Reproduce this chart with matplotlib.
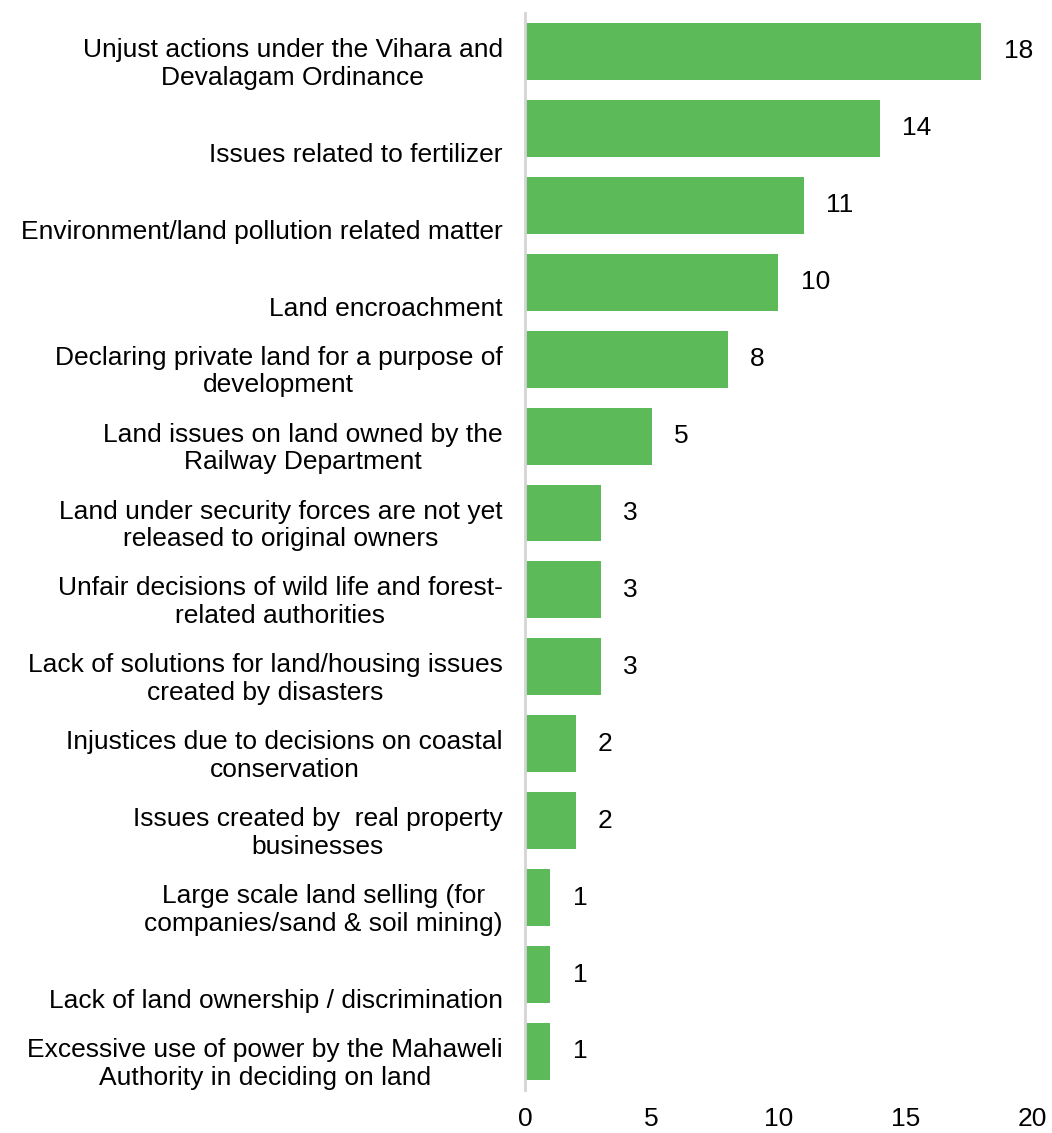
import matplotlib.pyplot as plt
from matplotlib.transforms import ScaledTranslation

plt.rcParams['font.family'] = ['Liberation Sans', 'DejaVu Sans']

# Categories (top to bottom) and counts
categories = [
    "Unjust actions under the Vihara and\nDevalagam Ordinance",
    "\nIssues related to fertilizer",
    "\nEnvironment/land pollution related matter",
    "\nLand encroachment",
    "Declaring private land for a purpose of\ndevelopment",
    "Land issues on land owned by the\nRailway Department",
    "Land under security forces are not yet\nreleased to original owners",
    "Unfair decisions of wild life and forest-\nrelated authorities",
    "Lack of solutions for land/housing issues\ncreated by disasters",
    "Injustices due to decisions on coastal\nconservation",
    "Issues created by  real property\nbusinesses",
    "Large scale land selling (for\ncompanies/sand & soil mining)",
    "\nLack of land ownership / discrimination",
    "Excessive use of power by the Mahaweli\nAuthority in deciding on land",
]
counts = [18, 14, 11, 10, 8, 5, 3, 3, 3, 2, 2, 1, 1, 1]
xticks = [0, 5, 10, 15, 20]

fig = plt.figure(figsize=(10.52, 11.33), dpi=100)
ax = fig.add_axes([0.499, 0.038, 0.482, 0.9505])

pos = list(range(len(categories)))
bars = ax.barh(pos, counts, height=0.74, color='#5CBB58')
ax.bar_label(bars, labels=[str(c) for c in counts], padding=16, fontsize=19)

ax.set_ylim(len(categories) - 0.5, -0.5)
ax.set_xlim(0, 20)
ax.set_xticks(xticks)
ax.set_yticks(pos)
ax.set_yticklabels(categories, fontsize=19, multialignment='center')
ax.tick_params(axis='both', length=0, labelsize=19)
ax.tick_params(axis='y', pad=16)
ax.tick_params(axis='x', pad=12)

# Excel places category labels slightly below bar centre
off = ScaledTranslation(0, -0.08, fig.dpi_scale_trans)
for lab in ax.get_yticklabels():
    lab.set_transform(lab.get_transform() + off)

for s in ['top', 'right', 'bottom']:
    ax.spines[s].set_visible(False)
ax.spines['left'].set_color('#D4D4D4')
ax.spines['left'].set_linewidth(2)

fig.savefig('out.png', dpi=100)
